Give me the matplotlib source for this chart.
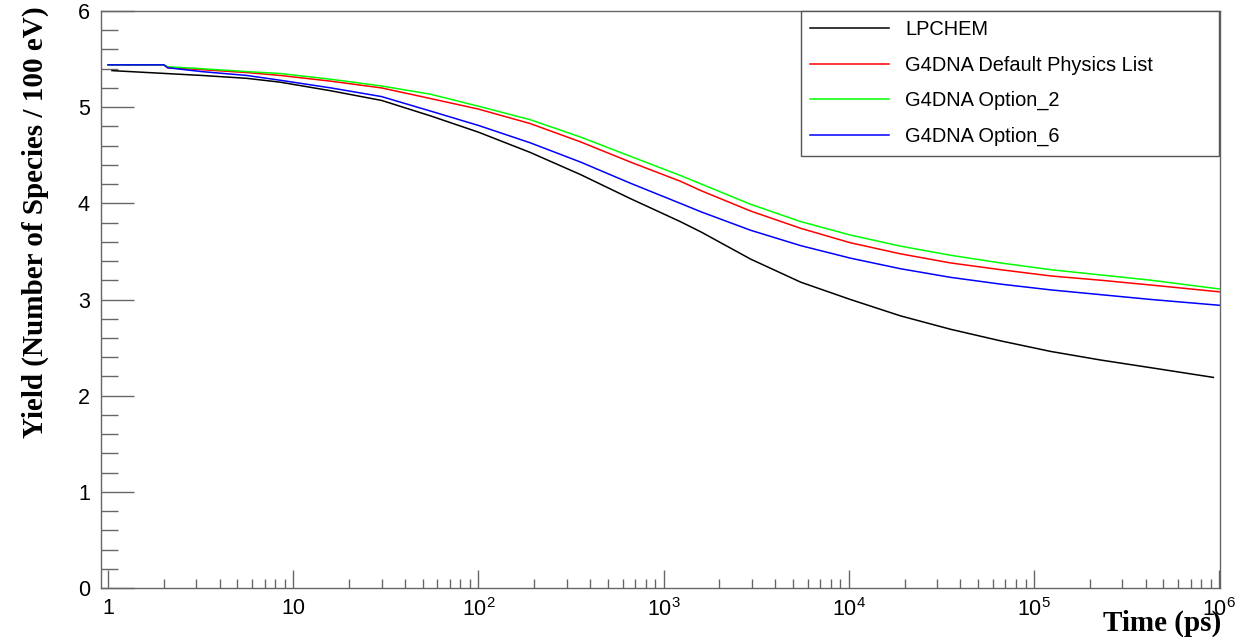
import matplotlib
matplotlib.use('Agg')
import matplotlib.pyplot as plt
from matplotlib.ticker import FixedLocator, NullFormatter

plt.rcParams['font.family'] = ['Liberation Sans', 'DejaVu Sans']
plt.rcParams['mathtext.default'] = 'regular'

# time axis (ps) and yields (species / 100 eV)
time_ps = [1, 2.0, 2.1, 3.2, 5.6, 8.5, 16, 30, 55, 100, 190, 355, 660, 1230, 1600,
           2950, 5500, 1.02e4, 1.9e4, 3.55e4, 6.6e4, 1.23e5, 2.3e5, 4.3e5, 1e6]
g4dna_default = [5.44, 5.44, 5.41, 5.39, 5.36, 5.33, 5.27, 5.20, 5.09, 4.98, 4.83, 4.64, 4.43,
                 4.23, 4.13, 3.92, 3.74, 3.59, 3.475, 3.38, 3.31, 3.245, 3.20, 3.15, 3.08]
g4dna_opt2 = [5.44, 5.44, 5.42, 5.40, 5.37, 5.35, 5.29, 5.22, 5.135, 5.01, 4.87, 4.69, 4.49,
              4.29, 4.20, 3.99, 3.81, 3.67, 3.555, 3.46, 3.38, 3.31, 3.255, 3.20, 3.11]
g4dna_opt6 = [5.44, 5.44, 5.41, 5.37, 5.33, 5.28, 5.20, 5.11, 4.96, 4.81, 4.63, 4.43, 4.21,
              4.00, 3.91, 3.72, 3.56, 3.43, 3.32, 3.23, 3.16, 3.10, 3.05, 3.00, 2.94]

time_lpchem = [1.05, 3.2, 5.6, 8.5, 16, 30, 55, 100, 190, 355, 660, 1230, 1600, 2950, 5500,
               1.02e4, 1.9e4, 3.55e4, 6.6e4, 1.23e5, 2.3e5, 4.3e5, 9.3e5]
lpchem = [5.38, 5.33, 5.30, 5.26, 5.17, 5.07, 4.91, 4.74, 4.53, 4.30, 4.05, 3.81, 3.70, 3.42,
          3.18, 3.00, 2.83, 2.69, 2.57, 2.46, 2.37, 2.29, 2.19]

xticks = [1, 10, 1e2, 1e3, 1e4, 1e5, 1e6]
xticklabels = ['1', '10', '$10^{2}$', '$10^{3}$', '$10^{4}$', '$10^{5}$', '$10^{6}$']

fig = plt.figure(figsize=(12.53, 6.43), dpi=100)
ax = fig.add_axes([101/1253, 1-588/643, (1220-101)/1253, (588-11)/643])

ax.plot(time_lpchem, lpchem, color='black', lw=1.1, label='LPCHEM')
ax.plot(time_ps, g4dna_default, color='#ff0000', lw=1.1, label='G4DNA Default Physics List')
ax.plot(time_ps, g4dna_opt2, color='#00ff00', lw=1.1, label='G4DNA Option_2')
ax.plot(time_ps, g4dna_opt6, color='#0000ff', lw=1.1, label='G4DNA Option_6')

ax.set_xscale('log')
ax.set_xlim(0.916, 1.01e6)
ax.set_ylim(0, 6)

ax.xaxis.set_major_locator(FixedLocator(xticks))
ax.set_xticklabels(xticklabels)
minors = [m * 10**d for d in range(0, 6) for m in range(2, 10)]
ax.xaxis.set_minor_locator(FixedLocator(minors))
ax.xaxis.set_minor_formatter(NullFormatter())
ax.set_yticks([0, 1, 2, 3, 4, 5, 6])
ax.set_yticks([i * 0.2 for i in range(31)], minor=True)

gr = '#666666'
for s in ax.spines.values():
    s.set_color(gr)
    s.set_linewidth(1.0)
ax.tick_params(axis='both', which='both', direction='in', colors=gr, labelcolor='black',
               top=False, right=False, labelsize=15.5, width=1.0)
ax.tick_params(axis='y', which='major', length=24, pad=8)
ax.tick_params(axis='y', which='minor', length=12)
ax.tick_params(axis='x', which='major', length=13, pad=7)
ax.tick_params(axis='x', which='minor', length=6.5)

leg = ax.legend(loc='upper right', bbox_to_anchor=(801/1253, 1-154/643, 418/1253, 143/643),
                bbox_transform=fig.transFigure, mode='expand', borderaxespad=0,
                fancybox=False, framealpha=1, edgecolor='#555555', fontsize=14.4,
                handlelength=3.95, handletextpad=0.8, labelspacing=0.82, borderpad=0.47)
leg.get_frame().set_linewidth(1.0)

fig.text(35/1253, 1-438/643, 'Yield (Number of Species / 100 eV)', rotation=90,
         ha='center', va='bottom', fontsize=21, fontweight='bold', family='Liberation Serif')
fig.text(1221/1253, 1-623/643, 'Time (ps)', ha='right', va='center',
         fontsize=21, fontweight='bold', family='Liberation Serif')

fig.savefig('out.png', dpi=100)
